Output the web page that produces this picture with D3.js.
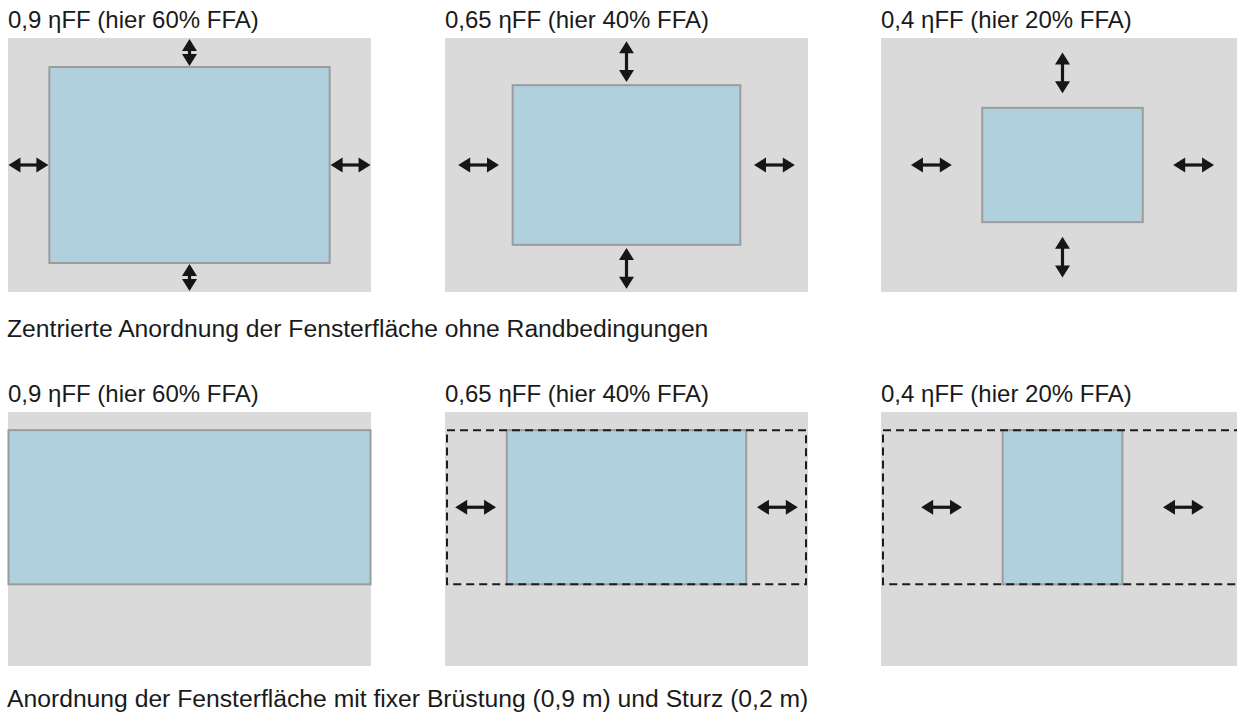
<!DOCTYPE html>
<html>
<head>
<meta charset="utf-8">
<script src="https://d3js.org/d3.v7.min.js"></script>
<style>
    body { margin: 0; background: #fff; }
    text { font-family: "Liberation Sans", Arial, Helvetica, sans-serif; fill: #1a1a1a; }
</style>
</head>
<body>
<div class="chart"></div>
<script>

// Panel titles and row captions
var titles = ["0,9 ηFF (hier 60% FFA)", "0,65 ηFF (hier 40% FFA)", "0,4 ηFF (hier 20% FFA)"];
var captions = [
    "Zentrierte Anordnung der Fensterfläche ohne Randbedingungen",
    "Anordnung der Fensterfläche mit fixer Brüstung (0,9 m) und Sturz (0,2 m)"
];

// Wall size in metres
var wallWidth = 4.0, wallHeight = 2.8;

// Row 1: centred window, width / height in metres
var centeredWidths = [3.1, 2.52, 1.78];
var centeredHeights = [2.16, 1.76, 1.26];

// Row 2: fixed parapet and lintel, only the width changes
var fixedWidths = [4.0, 2.65, 1.33];
var sturz = 0.2, bruestung = 0.9;

// Which panels get arrows / the dashed band
var centeredArrows = [true, true, true];
var fixedArrows = [false, true, true];

var width = 1237, height = 715;
var panelW = 363, panelH = 254;
var colX = [8, 445, 881];
var rowTop = [38, 412];
var maxArrow = 0.45;

var wallColor = "#dadada", glassColor = "#b0d0dd", frameColor = "#9c9c9c", ink = "#161616";

var svg = d3.select(".chart")
    .append("svg")
        .attr("width", width)
        .attr("height", height);

// Double headed arrow between two points
function arrow(g, x1, y1, x2, y2) {
    var head = 12, half = 7.5;
    var dx = x2 - x1, dy = y2 - y1;
    var len = Math.sqrt(dx * dx + dy * dy);
    var ux = dx / len, uy = dy / len;
    var px = -uy, py = ux;

    g.append("line")
        .attr("x1", x1 + ux * head * 0.6).attr("y1", y1 + uy * head * 0.6)
        .attr("x2", x2 - ux * head * 0.6).attr("y2", y2 - uy * head * 0.6)
        .style("stroke", ink)
        .style("stroke-width", 3.2);

    [[x1, y1, 1], [x2, y2, -1]].forEach(function(e) {
        var tx = e[0], ty = e[1], s = e[2];
        var bx = tx + ux * head * s, by = ty + uy * head * s;
        g.append("path")
            .attr("d", "M" + tx + "," + ty +
                "L" + (bx + px * half) + "," + (by + py * half) +
                "L" + (bx - px * half) + "," + (by - py * half) + "Z")
            .style("fill", ink);
    });
}

function drawPanel(col, row, win, showArrows, dashed) {
    var x = d3.scaleLinear().domain([0, wallWidth]).range([colX[col], colX[col] + panelW]);
    var y = d3.scaleLinear().domain([0, wallHeight]).range([rowTop[row], rowTop[row] + panelH]);

    var g = svg.append("g");

    g.append("rect")
        .attr("x", x(0))
        .attr("y", y(0))
        .attr("width", x(wallWidth) - x(0))
        .attr("height", y(wallHeight) - y(0))
        .style("fill", wallColor);

    g.append("rect")
        .attr("x", x(win.x0) + 0.5)
        .attr("y", y(win.y0))
        .attr("width", x(win.x1) - x(win.x0) - 1)
        .attr("height", y(win.y1) - y(win.y0))
        .style("fill", glassColor)
        .style("stroke", frameColor)
        .style("stroke-width", 2);

    if (dashed) {
        g.append("rect")
            .attr("x", x(0) + 2)
            .attr("y", y(win.y0))
            .attr("width", x(wallWidth) - x(0) - 4)
            .attr("height", y(win.y1) - y(win.y0))
            .style("fill", "none")
            .style("stroke", "#1c1c1c")
            .style("stroke-width", 2)
            .style("stroke-dasharray", "8,5");
    }

    if (!showArrows) return;

    var midY = (win.y0 + win.y1) / 2, midX = (win.x0 + win.x1) / 2;

    // Horizontal arrows in the side margins
    var side = win.x0;
    if (side > 0.05) {
        var hl = Math.min(maxArrow, side - 0.01);
        arrow(g, x(side / 2 - hl / 2), y(midY), x(side / 2 + hl / 2), y(midY));
        var c = (win.x1 + wallWidth) / 2;
        arrow(g, x(c - hl / 2), y(midY), x(c + hl / 2), y(midY));
    }

    // Vertical arrows only where the window floats in the wall
    if (win.vertical) {
        var top = win.y0;
        var vl = Math.min(maxArrow, top - 0.02);
        arrow(g, x(midX), y(top / 2 - vl / 2), x(midX), y(top / 2 + vl / 2));
        var cb = (win.y1 + wallHeight) / 2;
        arrow(g, x(midX), y(cb - vl / 2), x(midX), y(cb + vl / 2));
    }
}

// Row 1: centred windows
centeredWidths.forEach(function(w, i) {
    var h = centeredHeights[i];
    var win = {
        x0: (wallWidth - w) / 2, x1: (wallWidth + w) / 2,
        y0: (wallHeight - h) / 2, y1: (wallHeight + h) / 2,
        vertical: true
    };
    drawPanel(i, 0, win, centeredArrows[i], false);
});

// Row 2: fixed parapet and lintel
fixedWidths.forEach(function(w, i) {
    var win = {
        x0: (wallWidth - w) / 2, x1: (wallWidth + w) / 2,
        y0: sturz, y1: wallHeight - bruestung,
        vertical: false
    };
    drawPanel(i, 1, win, fixedArrows[i], i > 0);
});

// Titles above each panel
[0, 1].forEach(function(row) {
    svg.selectAll(".title" + row)
        .data(titles)
        .enter()
        .append("text")
        .attr("x", function(d, i) { return colX[i]; })
        .attr("y", rowTop[row] - 10)
        .style("font-size", "24px")
        .text(function(d) { return d; });
});

// Row captions
svg.selectAll(".caption")
    .data(captions)
    .enter()
    .append("text")
    .attr("x", 7)
    .attr("y", function(d, i) { return i == 0 ? 337 : 707; })
    .style("font-size", "24.7px")
    .text(function(d) { return d; });

</script>
</body>
</html>
